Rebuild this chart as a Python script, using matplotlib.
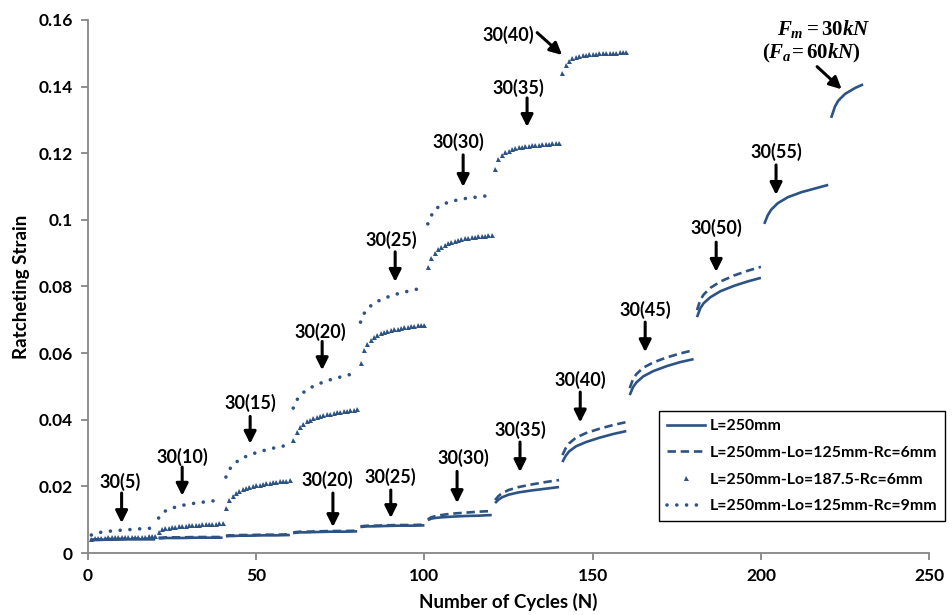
import matplotlib
matplotlib.use("Agg")
import matplotlib.pyplot as plt
from matplotlib.lines import Line2D

# ---- data -------------------------------------------------------------
BLOCK = 20  # cycles per loading step

# cycle offsets inside a step used for the line series
sample_n = [1, 2, 3, 5, 8, 12, 16, 20]

# L=250mm (solid), one row per loading step
solid_blocks = [
    [0.0038, 0.0039, 0.0039, 0.0040, 0.0040, 0.0041, 0.0041, 0.0041],
    [0.0044, 0.0044, 0.0045, 0.0045, 0.0045, 0.0046, 0.0046, 0.0046],
    [0.0050, 0.0051, 0.0051, 0.0052, 0.0052, 0.0053, 0.0053, 0.0054],
    [0.0060, 0.0061, 0.0062, 0.0062, 0.0063, 0.0064, 0.0064, 0.0065],
    [0.0078, 0.0079, 0.0080, 0.0080, 0.0081, 0.0082, 0.0082, 0.0083],
    [0.0099, 0.0103, 0.0105, 0.0107, 0.0109, 0.0111, 0.0112, 0.0114],
    [0.0150, 0.0160, 0.0167, 0.0175, 0.0182, 0.0188, 0.0193, 0.0198],
    [0.0273, 0.0292, 0.0305, 0.0320, 0.0333, 0.0346, 0.0357, 0.0366],
    [0.0474, 0.0498, 0.0512, 0.0530, 0.0546, 0.0561, 0.0573, 0.0582],
    [0.0708, 0.0735, 0.0750, 0.0768, 0.0786, 0.0802, 0.0815, 0.0826],
    [0.0988, 0.1013, 0.1030, 0.1050, 0.1068, 0.1083, 0.1094, 0.1105],
]
solid_tail_n = [1, 2, 3, 5, 8, 10]
solid_tail = [0.1310, 0.1340, 0.1358, 0.1378, 0.1396, 0.1405]

# L=250mm-Lo=125mm-Rc=6mm (dashed)
dashed_blocks = [
    [0.0040, 0.0041, 0.0041, 0.0042, 0.0042, 0.0043, 0.0043, 0.0043],
    [0.0046, 0.0046, 0.0047, 0.0047, 0.0047, 0.0048, 0.0048, 0.0048],
    [0.0052, 0.0053, 0.0053, 0.0054, 0.0054, 0.0055, 0.0055, 0.0056],
    [0.0062, 0.0063, 0.0064, 0.0064, 0.0065, 0.0066, 0.0066, 0.0067],
    [0.0080, 0.0081, 0.0082, 0.0082, 0.0083, 0.0084, 0.0084, 0.0085],
    [0.0101, 0.0107, 0.0110, 0.0114, 0.0118, 0.0121, 0.0124, 0.0126],
    [0.0159, 0.0171, 0.0179, 0.0189, 0.0198, 0.0206, 0.0213, 0.0219],
    [0.0294, 0.0315, 0.0329, 0.0346, 0.0360, 0.0373, 0.0384, 0.0393],
    [0.0495, 0.0522, 0.0537, 0.0556, 0.0572, 0.0587, 0.0599, 0.0609],
    [0.0729, 0.0760, 0.0776, 0.0796, 0.0815, 0.0833, 0.0847, 0.0859],
]

# L=250mm-Lo=125mm-Rc=9mm (dotted)
dotted_blocks = [
    [0.0054, 0.0058, 0.0061, 0.0064, 0.0067, 0.0070, 0.0073, 0.0075],
    [0.0105, 0.0118, 0.0126, 0.0135, 0.0143, 0.0150, 0.0155, 0.0160],
    [0.0228, 0.0250, 0.0264, 0.0280, 0.0295, 0.0307, 0.0317, 0.0325],
    [0.0435, 0.0458, 0.0473, 0.0490, 0.0506, 0.0520, 0.0531, 0.0541],
    [0.0693, 0.0718, 0.0733, 0.0750, 0.0765, 0.0778, 0.0788, 0.0797],
    [0.0988, 0.1012, 0.1030, 0.1045, 0.1056, 0.1064, 0.1069, 0.1074],
]

# L=250mm-Lo=187.5-Rc=6mm (triangles), every cycle 1..20 of each step
tri_blocks = [
    [0.0042, 0.0044, 0.0045, 0.0046, 0.0046, 0.0047, 0.0047, 0.0047, 0.0048, 0.0048,
     0.0048, 0.0048, 0.0049, 0.0049, 0.0049, 0.0049, 0.0049, 0.0050, 0.0050, 0.0050],
    [0.0064, 0.0071, 0.0074, 0.0076, 0.0078, 0.0079, 0.0080, 0.0081, 0.0082, 0.0083,
     0.0084, 0.0085, 0.0085, 0.0086, 0.0087, 0.0087, 0.0088, 0.0088, 0.0089, 0.0090],
    [0.0135, 0.0160, 0.0172, 0.0180, 0.0186, 0.0191, 0.0195, 0.0198, 0.0201, 0.0203,
     0.0205, 0.0207, 0.0209, 0.0211, 0.0212, 0.0213, 0.0215, 0.0216, 0.0217, 0.0218],
    [0.0339, 0.0364, 0.0378, 0.0388, 0.0395, 0.0400, 0.0405, 0.0408, 0.0411, 0.0414,
     0.0416, 0.0418, 0.0420, 0.0422, 0.0424, 0.0425, 0.0427, 0.0428, 0.0430, 0.0431],
    [0.0570, 0.0610, 0.0628, 0.0640, 0.0648, 0.0654, 0.0659, 0.0663, 0.0666, 0.0669,
     0.0671, 0.0673, 0.0675, 0.0677, 0.0679, 0.0680, 0.0682, 0.0683, 0.0684, 0.0685],
    [0.0859, 0.0885, 0.0902, 0.0912, 0.0920, 0.0926, 0.0931, 0.0935, 0.0938, 0.0941,
     0.0943, 0.0945, 0.0947, 0.0948, 0.0950, 0.0951, 0.0952, 0.0953, 0.0954, 0.0955],
    [0.1153, 0.1183, 0.1195, 0.1203, 0.1208, 0.1212, 0.1215, 0.1218, 0.1220, 0.1222,
     0.1223, 0.1224, 0.1225, 0.1226, 0.1227, 0.1228, 0.1229, 0.1230, 0.1230, 0.1231],
    [0.1441, 0.1466, 0.1478, 0.1485, 0.1489, 0.1492, 0.1494, 0.1496, 0.1497, 0.1498,
     0.1499, 0.1500, 0.1500, 0.1501, 0.1501, 0.1502, 0.1502, 0.1503, 0.1503, 0.1504],
]

series_names = [
    "L=250mm",
    "L=250mm-Lo=125mm-Rc=6mm",
    "L=250mm-Lo=187.5-Rc=6mm",
    "L=250mm-Lo=125mm-Rc=9mm",
]

x_ticks = [0, 50, 100, 150, 200, 250]
y_ticks = [0, 0.02, 0.04, 0.06, 0.08, 0.1, 0.12, 0.14, 0.16]
y_tick_labels = ["0", "0.02", "0.04", "0.06", "0.08", "0.1", "0.12", "0.14", "0.16"]

# step labels: (text, text x, text y, arrow x, arrow start y, arrow end y)
upper_labels = [
    ("30(5)", 9.5, 0.0213, 10.0, 0.0180, 0.0090),
    ("30(10)", 28.0, 0.0288, 28.0, 0.0258, 0.0172),
    ("30(15)", 48.2, 0.0450, 48.2, 0.0410, 0.0328),
    ("30(20)", 69.0, 0.0663, 69.6, 0.0635, 0.0549),
    ("30(25)", 90.0, 0.0940, 91.3, 0.0904, 0.0814),
    ("30(30)", 110.0, 0.1234, 111.5, 0.1195, 0.1099),
    ("30(35)", 128.0, 0.1396, 130.5, 0.1366, 0.1279),
]
lower_labels = [
    ("30(20)", 71.0, 0.0219, 72.8, 0.0180, 0.0078),
    ("30(25)", 89.8, 0.0228, 90.0, 0.0189, 0.0105),
    ("30(30)", 111.5, 0.0285, 109.7, 0.0245, 0.0150),
    ("30(35)", 128.4, 0.0369, 128.4, 0.0333, 0.0243),
    ("30(40)", 146.3, 0.0519, 146.3, 0.0483, 0.0392),
    ("30(45)", 165.6, 0.0730, 165.6, 0.0693, 0.0603),
    ("30(50)", 186.7, 0.0976, 186.7, 0.0933, 0.0844),
    ("30(55)", 204.5, 0.1204, 204.5, 0.1165, 0.1075),
]

# ---- style ------------------------------------------------------------
plt.rcParams["font.family"] = ["Lato", "DejaVu Sans"]
plt.rcParams["mathtext.fontset"] = "custom"
plt.rcParams["mathtext.it"] = "Liberation Serif:italic:bold"
plt.rcParams["mathtext.rm"] = "Liberation Serif:bold"
plt.rcParams["mathtext.bf"] = "Liberation Serif:bold"

BLUE = "#2c5384"
GREY = "#868686"
LABEL_SIZE = 13

fig = plt.figure(figsize=(9.52, 6.15), dpi=100)
ax = fig.add_axes([0.0924, 0.1008, 0.8836, 0.8667])

# solid series
for k, vals in enumerate(solid_blocks):
    xs = [k * BLOCK + n for n in sample_n]
    ax.plot(xs, vals, color=BLUE, lw=1.9, solid_capstyle="butt", zorder=3)
ax.plot([len(solid_blocks) * BLOCK + n for n in solid_tail_n], solid_tail,
        color=BLUE, lw=1.9, zorder=3)

# dashed series
for k, vals in enumerate(dashed_blocks):
    xs = [k * BLOCK + n for n in sample_n]
    ax.plot(xs, vals, color=BLUE, lw=1.9, dashes=(3.2, 1.8), zorder=3)

# dotted series
for k, vals in enumerate(dotted_blocks):
    xs = [k * BLOCK + n for n in sample_n]
    ax.plot(xs, vals, color=BLUE, lw=2.6, dashes=(0.01, 2.7),
            dash_capstyle="round", zorder=3)

# triangle series
for k, vals in enumerate(tri_blocks):
    xs = [k * BLOCK + n for n in range(1, len(vals) + 1)]
    ax.plot(xs, vals, ls="none", marker="^", ms=3.6, mew=0,
            color=BLUE, zorder=3)

ax.set_xlim(0, 250)
ax.set_ylim(0, 0.16)
ax.set_xticks(x_ticks)
ax.set_xticklabels([str(v) for v in x_ticks])
ax.set_yticks(y_ticks)
ax.set_yticklabels(y_tick_labels)

for side in ("top", "right"):
    ax.spines[side].set_visible(False)
for side in ("left", "bottom"):
    ax.spines[side].set_color(GREY)
    ax.spines[side].set_linewidth(1.3)
ax.tick_params(axis="both", direction="out", length=5, width=1.3,
               color=GREY, labelsize=12.5, pad=6)
for lab in ax.get_xticklabels() + ax.get_yticklabels():
    lab.set_fontweight("bold")

ax.set_xlabel("Number of Cycles (N)", fontsize=13.5, fontweight="bold", labelpad=6)
ax.set_ylabel("Ratcheting Strain", fontsize=13.5, fontweight="bold", labelpad=6)

# step annotations
arrow_kw = dict(arrowstyle="-|>", color="black", lw=2.2, mutation_scale=18,
                shrinkA=0, shrinkB=0)
for txt, tx, ty, axx, y0, y1 in upper_labels + lower_labels:
    ax.text(tx, ty, txt, ha="center", va="center", fontsize=LABEL_SIZE,
            fontweight="bold", zorder=5)
    ax.annotate("", xy=(axx, y1), xytext=(axx, y0), arrowprops=arrow_kw, zorder=5)

ax.text(125.0, 0.1555, "30(40)", ha="center", va="center", fontsize=LABEL_SIZE,
        fontweight="bold", zorder=5)
ax.annotate("", xy=(140.9, 0.1495), xytext=(133.5, 0.1562),
            arrowprops=arrow_kw, zorder=5)

ax.text(218.5, 0.1572, r"$F_m = 30kN$", ha="center", va="center",
        fontsize=15, zorder=5)
ax.text(215.0, 0.1500, r"$(F_a\!= 60kN)$", ha="center", va="center",
        fontsize=15, zorder=5)
ax.annotate("", xy=(224.0, 0.1392), xytext=(216.7, 0.1460),
            arrowprops=arrow_kw, zorder=5)

# legend
handles = [
    Line2D([], [], color=BLUE, lw=1.9),
    Line2D([], [], color=BLUE, lw=1.9, dashes=(3.2, 1.8)),
    Line2D([], [], ls="none", marker="^", ms=3.6, mew=0, color=BLUE),
    Line2D([], [], color=BLUE, lw=2.6, dashes=(0.01, 2.7), dash_capstyle="round"),
]
leg = ax.legend(handles, series_names, loc="upper right",
                bbox_to_anchor=(1.019, 0.266), frameon=True, fancybox=False,
                edgecolor="black", framealpha=1, borderpad=0.5,
                labelspacing=0.8, handlelength=2.4, handletextpad=0.3,
                borderaxespad=0.0,
                prop={"weight": "bold", "size": 11.4})
leg.get_frame().set_linewidth(1.0)
leg.set_zorder(6)

fig.savefig("out.png", dpi=100)
